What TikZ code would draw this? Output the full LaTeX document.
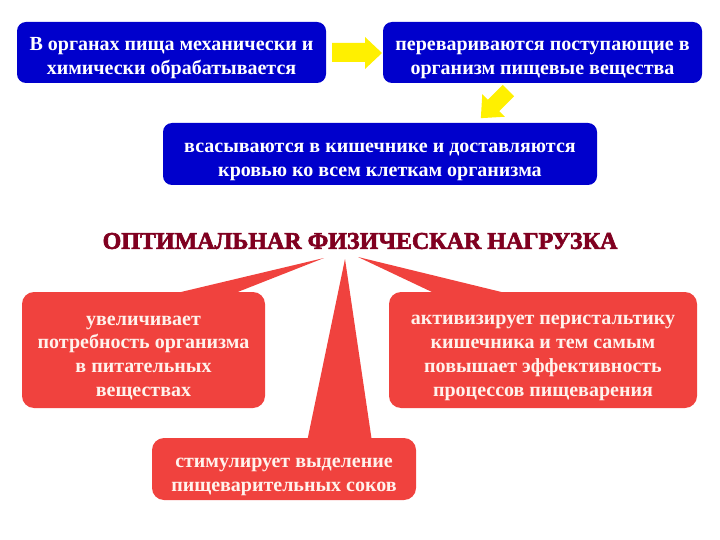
\documentclass[tikz,border=0pt]{standalone}
\usepackage{fontspec}
\setmainfont{Liberation Serif}
\newfontfamily\titlefont[UprightFont={* Bold}, UprightFeatures={FakeBold=2.5}]{Liberation Serif}
\usetikzlibrary{calc}
\definecolor{boxblue}{RGB}{0,0,204}
\definecolor{boxred}{RGB}{240,66,62}
\definecolor{arrowyellow}{RGB}{255,240,0}
\definecolor{titlered}{RGB}{128,0,32}
\definecolor{paletext}{RGB}{255,242,236}
\newcommand\mytopstrut{\rule{0pt}{25pt}}
\begin{document}
\begin{tikzpicture}[x=1pt,y=-1pt,
  bluebox/.style={fill=boxblue, rounded corners=9pt, align=center, text=white,
    font=\bfseries\fontsize{20}{24}\selectfont, inner sep=0pt},
  redbox/.style={fill=boxred, rounded corners=12pt, align=center, text=paletext,
    font=\bfseries\fontsize{20}{23.8}\selectfont, inner sep=0pt},
  wedge/.style={fill=boxred},
  yarrow/.style={fill=arrowyellow}]
\useasboundingbox (0,0) rectangle (720,540);

% blue boxes
\node[bluebox, minimum width=309pt, minimum height=61pt] (b1) at (171.5,52.5)
  {\mytopstrut В органах пища механически и\\химически обрабатывается};
\node[bluebox, minimum width=319pt, minimum height=61pt] (b2) at (542.5,52.5)
  {\mytopstrut перевариваются поступающие в\\организм пищевые вещества};
\node[bluebox, minimum width=434pt, minimum height=62pt] (b3) at (380,154)
  {\mytopstrut всасываются в кишечнике и доставляются\\кровью ко всем клеткам организма};

% yellow arrows
\path[yarrow] (332,43) -- (365,43) -- (365,37) -- (382,53) -- (365,69) -- (365,62) -- (332,62) -- cycle;
\begin{scope}[shift={(495,104)}, rotate=225]
  \path[yarrow] (-19,-8) -- (2,-8) -- (2,-16) -- (20,0) -- (2,16) -- (2,8) -- (-19,8) -- cycle;
\end{scope}

% title
\node[text=titlered, font=\titlefont\fontsize{24}{28}\selectfont, inner sep=0pt] (t) at (360,241)
  {ОПТИМАЛЬНАR ФИЗИЧЕСКАR НАГРУЗКА};

% red boxes
\node[redbox, minimum width=243pt, minimum height=116pt] (l) at (143.5,350)
  {\mytopstrut увеличивает\\потребность организма\\в питательных\\веществах};
\node[redbox, minimum width=308pt, minimum height=116pt] (r) at (543,350)
  {\mytopstrut активизирует перистальтику\\кишечника и тем самым\\повышает эффективность\\процессов пищеварения};
\node[redbox, minimum width=264pt, minimum height=62pt] (m) at (284,469)
  {\mytopstrut стимулирует выделение\\пищеварительных соков};

% callout pointers
\coordinate (tl) at (324,258);
\coordinate (tm) at (345,259);
\coordinate (tr) at (358,257);
\path[wedge] (tl) -- ($(l.north)+(21.5,4)$) -- ($(l.north)+(84.5,4)$) -- cycle;
\path[wedge] (tm) -- ($(m.north)+(23,4)$) -- ($(m.north)+(88,4)$) -- cycle;
\path[wedge] (tr) -- ($(r.north)+(-103,4)$) -- ($(r.north)+(-26,4)$) -- cycle;
\end{tikzpicture}
\end{document}
